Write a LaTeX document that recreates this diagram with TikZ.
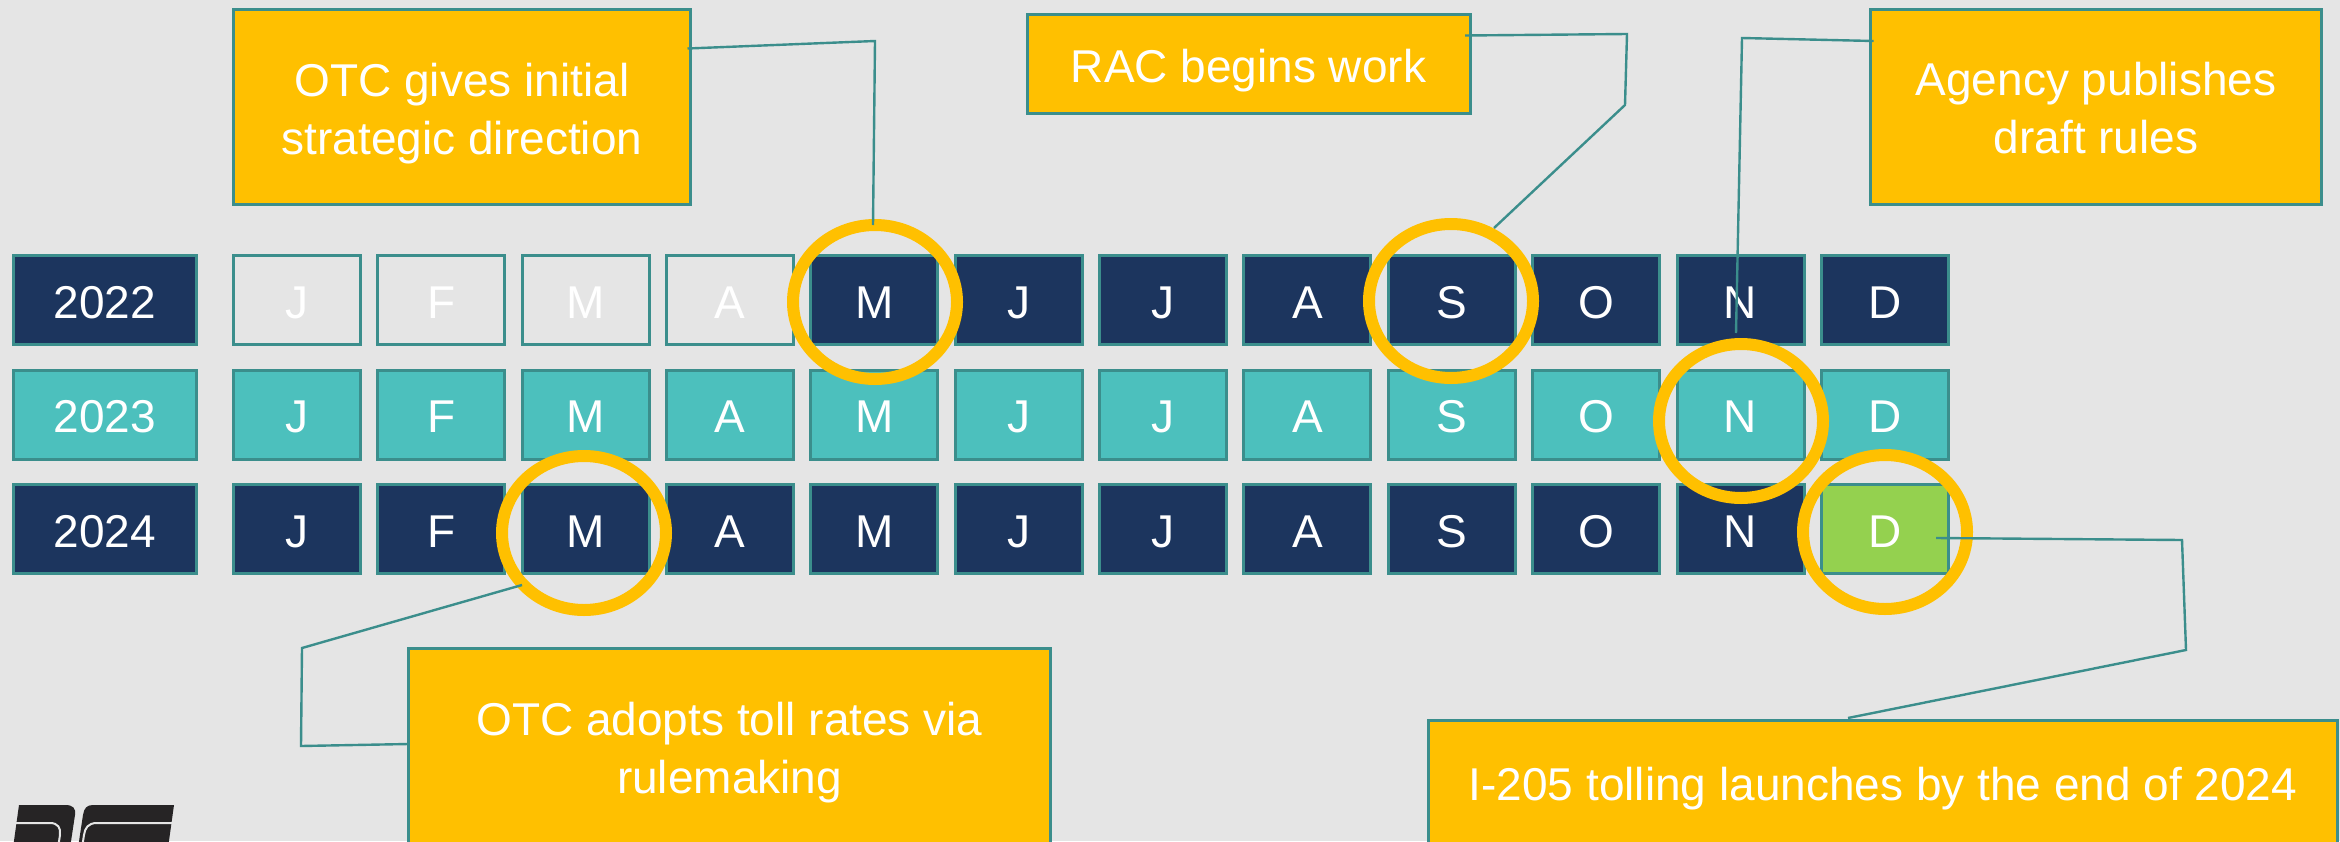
\documentclass[tikz,border=0pt]{standalone}
\usepackage{fontspec}
\setmainfont{Liberation Sans}
\usetikzlibrary{shapes.geometric}
\definecolor{bgc}{HTML}{E5E5E5}
\definecolor{navy}{HTML}{1C355E}
\definecolor{tealf}{HTML}{4CC0BD}
\definecolor{edgec}{HTML}{3B8E8C}
\definecolor{gold}{HTML}{FFC000}
\definecolor{leaf}{HTML}{94D14F}
\definecolor{logoc}{HTML}{262425}
\newcommand{\fixh}{\rule{0pt}{24pt}}
\newcommand{\fixd}{\rule[-6pt]{0pt}{6pt}}
\tikzset{
  x=0.5pt,y=-0.5pt,
  txt/.style={font=\fontsize{23}{29}\selectfont,text=white,align=center,inner sep=0pt,outer sep=0pt},
  cellbox/.style={txt,rectangle,draw=edgec,line width=1.5pt,minimum width=63.5pt,minimum height=44.5pt},
  yearbox/.style={cellbox,minimum width=91.5pt},
  callout/.style={txt,rectangle,draw=edgec,line width=1.5pt,fill=gold},
  ring/.style={ellipse,draw=gold,line width=6pt,minimum width=82pt,minimum height=77pt,inner sep=0pt,outer sep=0pt},
  leader/.style={draw=edgec,line width=1.2pt,line join=miter}
}
\begin{document}
\begin{tikzpicture}
\path[use as bounding box,fill=bgc] (0,0) rectangle (2340,841);
% logo
\fill[logoc] (19,805) -- (65,805) .. controls (73,805) and (76,808) .. (75,815) -- (70,848) -- (13,848) -- cycle;
\fill[logoc] (78,848) -- (83,815) .. controls (84,808) and (87,805) .. (93,805) -- (174,805) -- (168,848) -- cycle;
\draw[bgc,line width=1pt] (14,823) -- (50,823) .. controls (58,823) and (61,828) .. (60,835) -- (58,848);
\draw[bgc,line width=1pt] (173,823) -- (97,823) .. controls (88,823) and (85,828) .. (84,835) -- (82,848);
% years
\node[yearbox,fill=navy]  (y22) at (105,300) {\fixh\fixd 2022};
\node[yearbox,fill=tealf] (y23) at (105,414.5) {\fixh\fixd 2023};
\node[yearbox,fill=navy]  (y24) at (105,529) {\fixh\fixd 2024};
% months
\foreach \m [count=\i from 0] in {J,F,M,A,M,J,J,A,S,O,N,D}{
  \pgfmathsetmacro{\cx}{297+144.35*\i}
  \ifnum\i<4
    \node[cellbox,fill=bgc] (m22-\i) at (\cx,300) {\fixh\fixd\m};
  \else
    \node[cellbox,fill=navy] (m22-\i) at (\cx,300) {\fixh\fixd\m};
  \fi
  \node[cellbox,fill=tealf] (m23-\i) at (\cx,414.5) {\fixh\fixd\m};
  \ifnum\i<11
    \node[cellbox,fill=navy] (m24-\i) at (\cx,529) {\fixh\fixd\m};
  \else
    \node[cellbox,fill=leaf] (m24-\i) at (\cx,529) {\fixh\fixd\m};
  \fi
}
% callouts
\node[callout,minimum width=228.5pt,minimum height=97.5pt] (otcdir) at (462,107) {\fixh OTC gives initial\\\fixd strategic direction};
\node[callout,minimum width=221.5pt,minimum height=49.5pt] (racwork) at (1248.5,64) {\fixh\fixd RAC begins work};
\node[callout,minimum width=225.5pt,minimum height=97.5pt] (agency) at (2096,106.5) {\fixh Agency publishes\\\fixd draft rules};
\node[callout,minimum width=321pt,minimum height=97.5pt] (adopt) at (729.5,746) {\fixh OTC adopts toll rates via\\\fixd rulemaking};
\node[callout,minimum width=454.5pt,minimum height=62pt] (launch) at (1883,782) {\fixh\fixd I-205 tolling launches by the end of 2024};
% rings
\node[ring] (rM22) at (875,302) {};
\node[ring] (rS22) at (1451,301) {};
\node[ring] (rN23) at (1741,421) {};
\node[ring] (rM24) at (584,533) {};
\node[ring] (rD24) at (1885,532) {};
% elbows
\coordinate (e1) at (875,41);
\coordinate (e2a) at (1627,34);
\coordinate (e2b) at (1625,105);
\coordinate (e3) at (1742,38);
\coordinate (e4a) at (2182,540);
\coordinate (e4b) at (2186,650);
\coordinate (e5a) at (301,746);
\coordinate (e5b) at (302,648);
% connectors
\draw[leader] ([shift={(-3,39)}]otcdir.north east) -- (e1) -- ([shift={(-2,0)}]rM22.north);
\draw[leader] ([shift={(-5,21)}]racwork.north east) -- (e2a) -- (e2b) -- ([shift={(43,-73)}]rS22.center);
\draw[leader] ([shift={(3,32)}]agency.north west) -- (e3) -- ([shift={(-5,-88)}]rN23.center);
\draw[leader] ([shift={(51,6)}]rD24.center) -- (e4a) -- (e4b) -- ([shift={(-35,-2)}]launch.north);
\draw[leader] ([shift={(0,-2)}]adopt.west) -- (e5a) -- (e5b) -- ([shift={(-62,52)}]rM24.center);
\end{tikzpicture}
\end{document}
